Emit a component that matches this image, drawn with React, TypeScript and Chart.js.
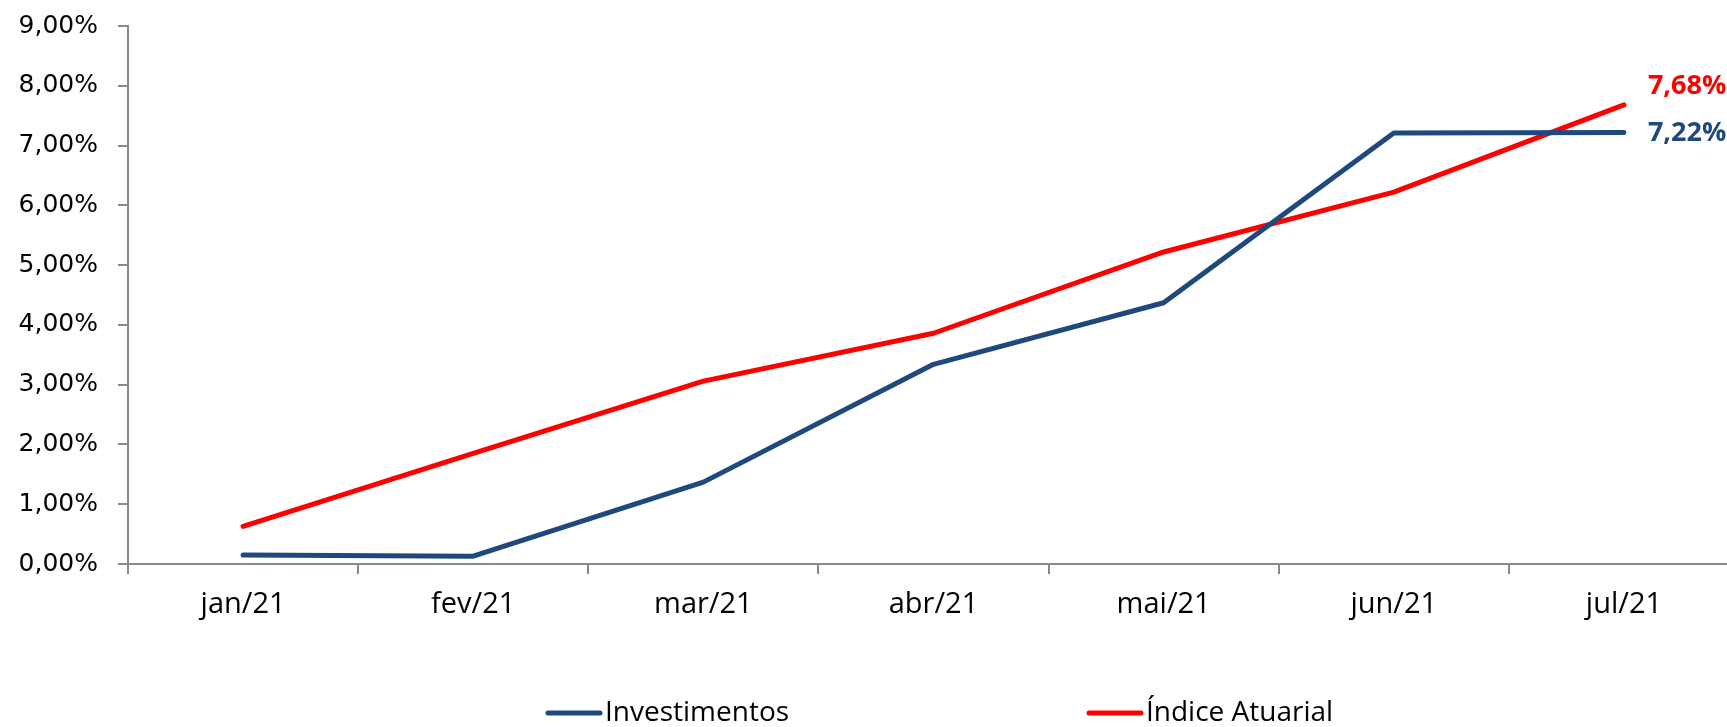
import React, { useEffect, useRef } from "react";
import { Chart, registerables } from "chart.js";

Chart.register(...registerables);

const categories = ["jan/21", "fev/21", "mar/21", "abr/21", "mai/21", "jun/21", "jul/21"];
const investimentos = [0.15, 0.13, 1.37, 3.34, 4.37, 7.21, 7.22];
const indiceAtuarial = [0.63, 1.85, 3.06, 3.86, 5.22, 6.22, 7.68];
const seriesNames = ["Investimentos", "Índice Atuarial"];
const seriesColors = ["#1F497D", "#FF0000"];
const yMin = 0;
const yMax = 9;
const yStep = 1;

const fmtPct = (v: number) => v.toFixed(2).replace(".", ",") + "%";

const lastLabelPlugin = {
  id: "lastLabel",
  afterDatasetsDraw(chart: any) {
    const ctx = chart.ctx;
    const offsets = [1, -19];
    chart.data.datasets.forEach((ds: any, i: number) => {
      const meta = chart.getDatasetMeta(i);
      const pt = meta.data[meta.data.length - 1];
      const val = ds.data[ds.data.length - 1];
      ctx.save();
      ctx.font = "bold 27px 'Open Sans'";
      ctx.fillStyle = ds.borderColor;
      ctx.textAlign = "left";
      ctx.textBaseline = "middle";
      ctx.fillText(fmtPct(val), pt.x + 24, pt.y + offsets[i]);
      ctx.restore();
    });
  },
};

const legendPlugin = {
  id: "customLegend",
  afterDraw(chart: any) {
    const ctx = chart.ctx;
    const starts = [546, 1087];
    const cy = 713;
    chart.data.datasets.forEach((ds: any, i: number) => {
      const x = starts[i];
      ctx.save();
      ctx.strokeStyle = ds.borderColor;
      ctx.lineWidth = 5;
      ctx.lineCap = "round";
      ctx.beginPath();
      ctx.moveTo(x + 2, cy);
      ctx.lineTo(x + 54, cy);
      ctx.stroke();
      ctx.font = "28px 'Open Sans'";
      ctx.fillStyle = "#000";
      ctx.textAlign = "left";
      ctx.textBaseline = "middle";
      ctx.fillText(ds.label, x + 59, cy);
      ctx.restore();
    });
  },
};

export default function App() {
  const ref = useRef<HTMLCanvasElement | null>(null);
  useEffect(() => {
    if (!ref.current) return;
    const chart = new Chart(ref.current, {
      type: "line",
      data: {
        labels: categories,
        datasets: [
          {
            label: seriesNames[0],
            data: investimentos,
            borderColor: seriesColors[0],
            backgroundColor: seriesColors[0],
            borderWidth: 5,
            pointRadius: 0,
            borderCapStyle: "round",
            borderJoinStyle: "round",
            tension: 0,
          },
          {
            label: seriesNames[1],
            data: indiceAtuarial,
            borderColor: seriesColors[1],
            backgroundColor: seriesColors[1],
            borderWidth: 5,
            pointRadius: 0,
            borderCapStyle: "round",
            borderJoinStyle: "round",
            tension: 0,
          },
        ],
      },
      options: {
        responsive: false,
        animation: false,
        devicePixelRatio: 1,
        layout: { padding: { top: 26, right: 21, left: 0, bottom: 0 } },
        plugins: { legend: { display: false }, tooltip: { enabled: false } },
        scales: {
          x: {
            offset: true,
            grid: {
              offset: true,
              drawOnChartArea: false,
              drawTicks: true,
              tickLength: 10,
              color: "#898989",
              lineWidth: 2,
            },
            border: { color: "#898989", width: 2 },
            ticks: {
              color: "#000",
              font: { family: "'Open Sans'", size: 29 },
              padding: 13,
              maxRotation: 0,
              autoSkip: false,
            },
            afterFit: (s: any) => {
              s.height = 163;
              s.paddingLeft = 0;
              s.paddingRight = 0;
            },
          },
          y: {
            min: yMin,
            max: yMax,
            grid: {
              drawOnChartArea: false,
              drawTicks: true,
              tickLength: 10,
              color: "#898989",
              lineWidth: 2,
            },
            border: { color: "#898989", width: 2 },
            ticks: {
              stepSize: yStep,
              color: "#000",
              font: { family: "'DejaVu Sans'", size: 25 },
              padding: 20,
              callback: (v: any) => fmtPct(Number(v)),
            },
            afterFit: (s: any) => {
              s.width = 128;
              s.paddingTop = 0;
              s.paddingBottom = 0;
            },
          },
        },
      },
      plugins: [lastLabelPlugin, legendPlugin],
    });
    return () => chart.destroy();
  }, []);
  return (
    <div
      style={{
        position: "fixed",
        left: 0,
        top: 0,
        width: 1727,
        height: 727,
        overflow: "hidden",
        background: "#fff",
      }}
    >
      <canvas ref={ref} width={1760} height={727} style={{ display: "block" }} />
    </div>
  );
}
